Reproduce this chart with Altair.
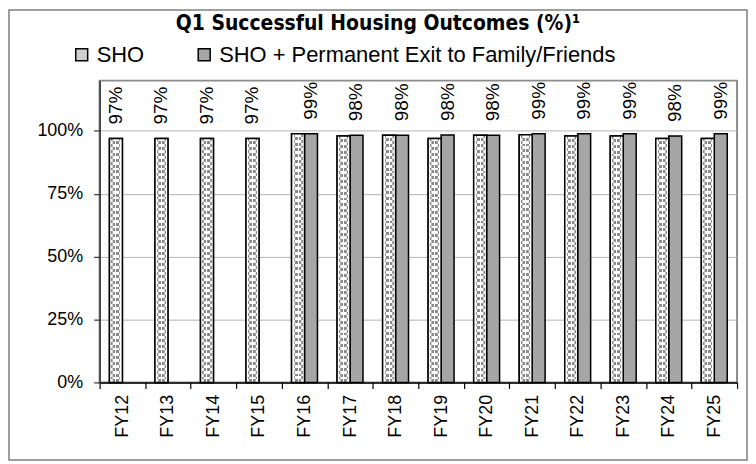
import altair as alt
import pandas as pd

categories = ["FY12", "FY13", "FY14", "FY15", "FY16", "FY17", "FY18",
              "FY19", "FY20", "FY21", "FY22", "FY23", "FY24", "FY25"]
sho = [97.0, 97.0, 97.0, 97.0, 98.9, 98.0, 98.3, 97.0, 98.3, 98.5, 98.0, 98.0, 97.0, 97.0]
sho_plus = [None, None, None, None, 98.9, 98.3, 98.3, 98.4, 98.3, 98.9, 98.9, 98.9, 98.0, 98.9]
series_names = ["SHO", "SHO + Permanent Exit to Family/Friends"]
y_ticks = [0, 0.25, 0.5, 0.75, 1.0]
title_text = "Q1 Successful Housing Outcomes (%)¹"

rows, lab_rows = [], []
for c, a, b in zip(categories, sho, sho_plus):
    rows.append({"cat": c, "series": series_names[0], "value": a / 100})
    if b is not None:
        rows.append({"cat": c, "series": series_names[1], "value": b / 100})
        lab_rows.append({"cat": c, "series": series_names[1], "value": b / 100,
                         "label": f"{int(b + 0.5)}%"})
    else:
        lab_rows.append({"cat": c, "series": series_names[0], "value": a / 100,
                         "label": f"{int(a + 0.5)}%"})
df = pd.DataFrame(rows)
labdf = pd.DataFrame(lab_rows)

FONT = "Liberation Sans, Arial, sans-serif"
TITLE_FONT = "Liberation Sans Narrow, DejaVu Sans Condensed, Roboto, sans-serif"
DOT = "#8a8a8a"
W = "#ffffff"
T = "rgba(255,255,255,0)"


def stripe_gradient(n, phase, frac):
    stops = [alt.GradientStop(offset=0, color=W)]
    for i in range(-1, n + 1):
        a = (i + phase) / n
        b = (i + phase + frac) / n
        a2, b2 = max(0.0, a), min(1.0, b)
        if b2 <= 0 or a2 >= 1:
            continue
        stops += [alt.GradientStop(offset=a2, color=W), alt.GradientStop(offset=a2, color=DOT),
                  alt.GradientStop(offset=b2, color=DOT), alt.GradientStop(offset=b2, color=W)]
    stops.append(alt.GradientStop(offset=1, color=W))
    return alt.Gradient(gradient="linear", x1=0, y1=0, x2=0, y2=1, stops=stops)


n_rows = 42
grad_a = stripe_gradient(n_rows, 0.0, 0.5)
grad_b = stripe_gradient(n_rows, 0.5, 0.5)

vcuts = [(0.0, W), (0.15, W), (0.15, T), (0.46, T), (0.46, W), (0.54, W),
         (0.54, T), (0.85, T), (0.85, W), (1.0, W)]
vgrad = alt.Gradient(gradient="linear", x1=0, y1=0, x2=1, y2=0,
                     stops=[alt.GradientStop(offset=o, color=col) for o, col in vcuts])

x_enc = alt.X("cat:N", sort=categories,
              scale=alt.Scale(domain=categories, paddingInner=0, paddingOuter=0),
              axis=alt.Axis(title=None, labelAngle=270, tickBand="extent", grid=False,
                            tickSize=6, labelPadding=6, domainColor="black",
                            tickColor="black", domainWidth=1.5, tickWidth=1.2,
                            labelFontSize=18))
xo_enc = alt.XOffset("series:N", sort=series_names,
                     scale=alt.Scale(domain=series_names, paddingInner=0, paddingOuter=0.758))
y_enc = alt.Y("value:Q", scale=alt.Scale(domain=[0, 1.2], nice=False),
              axis=alt.Axis(title=None, values=y_ticks, format=".0%", grid=True,
                            gridColor="#b3b3b3", gridWidth=1, tickSize=6, labelPadding=11,
                            domainColor="#333333", tickColor="#333333", domainWidth=1.5,
                            tickWidth=1.2, labelFontSize=18))

frame = alt.Chart(pd.DataFrame({"k": [0]})).mark_rect(
    fill="white", fillOpacity=0, stroke="#7f7f7f", strokeWidth=1.5
).encode(x=alt.value(-91), x2=alt.value(650), y=alt.value(-71), y2=alt.value(381))

base_bars = alt.Chart(df).mark_bar(stroke="black", strokeWidth=1.5).encode(
    x=x_enc, xOffset=xo_enc, y=y_enc,
    fill=alt.Fill("series:N", sort=series_names,
                  scale=alt.Scale(domain=series_names, range=["#cfcfcf", "#a6a6a6"]),
                  legend=alt.Legend(title=None, orient="none", legendX=-29, legendY=-37,
                                    direction="horizontal", symbolType="square",
                                    symbolSize=144, symbolStrokeColor="black",
                                    symbolStrokeWidth=1.5, labelFontSize=22,
                                    labelFont=FONT, labelColor="black", labelLimit=0,
                                    columnPadding=49, labelOffset=4))
)

sho_only = alt.Chart(df).transform_filter(alt.datum.series == series_names[0])

sho_rows_a = sho_only.mark_bar(fill=grad_a, strokeWidth=0).encode(
    x=x_enc, xOffset=xo_enc, y=y_enc)
sho_rows_b = sho_only.mark_bar(fill=grad_b, strokeWidth=0, width=6.5, xOffset=3.25).encode(
    x=x_enc, xOffset=xo_enc, y=y_enc)
sho_mask = sho_only.mark_bar(fill=vgrad, stroke="black", strokeWidth=1.5).encode(
    x=x_enc, xOffset=xo_enc, y=y_enc)

labels = alt.Chart(labdf).mark_text(
    angle=270, align="left", baseline="middle", dx=14, fontSize=19, font=FONT, color="black"
).encode(x=x_enc, xOffset=xo_enc, y=y_enc, text="label:N")

title = alt.Chart(pd.DataFrame({"t": [title_text]})).mark_text(
    font=TITLE_FONT, fontWeight="bold", fontSize=21, align="center",
    baseline="middle", color="black"
).encode(text="t:N", x=alt.value(279.5), y=alt.value(-57))

chart = alt.layer(frame, base_bars, sho_rows_a, sho_rows_b, sho_mask, labels, title).properties(
    width=640, height=303, padding=0
).configure_view(
    stroke="#8c8c8c", strokeWidth=2
).configure_axis(
    labelFont=FONT, labelColor="black"
)

chart.save("out.html", embed_options={"renderer": "svg", "actions": False})
